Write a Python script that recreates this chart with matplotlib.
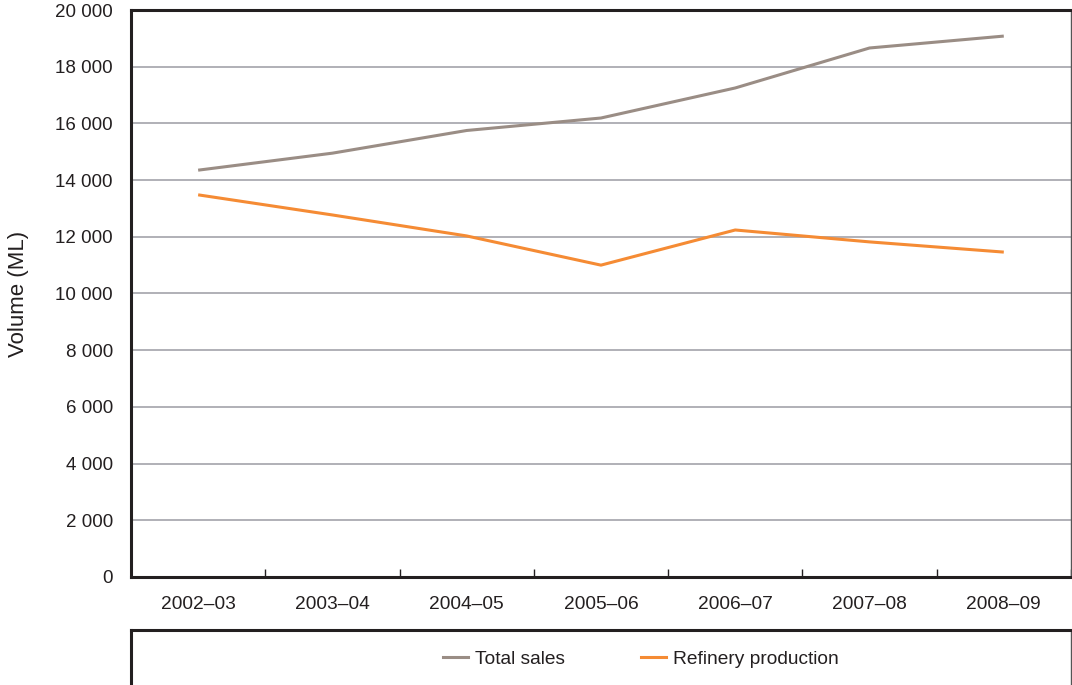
import matplotlib.pyplot as plt
import numpy as np
from matplotlib.lines import Line2D

plt.rcParams['font.family'] = ['Liberation Sans', 'DejaVu Sans']

years = ['2002–03', '2003–04', '2004–05', '2005–06', '2006–07', '2007–08', '2008–09']
total_sales = [14350, 14950, 15750, 16190, 17250, 18660, 19080]
refinery_production = [13480, 12770, 12030, 11000, 12240, 11820, 11460]
y_ticks = [0, 2000, 4000, 6000, 8000, 10000, 12000, 14000, 16000, 18000, 20000]

c_sales = '#9a8d85'
c_ref = '#f58b34'
dark = '#231f20'

fig = plt.figure(figsize=(10.72, 6.85), dpi=100)
ax = fig.add_axes([0.1222, 0.1577, 0.8768, 0.8277])

x = np.arange(len(years))
ax.plot(x, total_sales, color=c_sales, lw=2.2, solid_capstyle='butt')
ax.plot(x, refinery_production, color=c_ref, lw=2.2, solid_capstyle='butt')

ax.set_xlim(-0.5, len(years) - 0.5)
ax.set_ylim(0, 20000)
ax.set_yticks(y_ticks)
ax.set_yticklabels([f'{v:,}'.replace(',', ' ') for v in y_ticks], fontsize=13.5, color=dark)
ax.tick_params(axis='y', length=0, pad=13)
ax.set_xticks(x)
ax.set_xticklabels(years, fontsize=13.8, color=dark)
ax.tick_params(axis='x', which='major', length=0, pad=14)
ax.set_xticks(np.arange(len(years) + 1) - 0.5, minor=True)
ax.tick_params(axis='x', which='minor', direction='in', length=6, width=1, color=dark)

ax.grid(axis='y', color='#a3a3aa', lw=1.2)
ax.set_axisbelow(True)
for s in ['left', 'bottom', 'top']:
    ax.spines[s].set_linewidth(2.2)
    ax.spines[s].set_color(dark)
ax.spines['right'].set_linewidth(1)
ax.spines['right'].set_color('#555555')

ax.set_ylabel('Volume (ML)', fontsize=16, color=dark, labelpad=19)

# legend panel below the chart
lax = fig.add_axes([0.1222, -0.05, 0.8768, 0.13])
lax.set_xticks([])
lax.set_yticks([])
for s in ['left', 'top']:
    lax.spines[s].set_linewidth(2.2)
    lax.spines[s].set_color(dark)
lax.spines['right'].set_linewidth(1)
lax.spines['right'].set_color('#555555')
lax.spines['bottom'].set_visible(False)

handles = [Line2D([], [], color=c_sales, lw=2.2), Line2D([], [], color=c_ref, lw=2.2)]
fig.legend(handles, ['Total sales', 'Refinery production'], loc='center left',
           bbox_to_anchor=(443 / 1072, 1 - 659 / 685), ncol=2, frameon=False,
           fontsize=13.8, handlelength=1.3, handletextpad=0.35, columnspacing=4.0,
           labelcolor=dark, borderpad=0, borderaxespad=0)

fig.savefig('out.png', dpi=100)
